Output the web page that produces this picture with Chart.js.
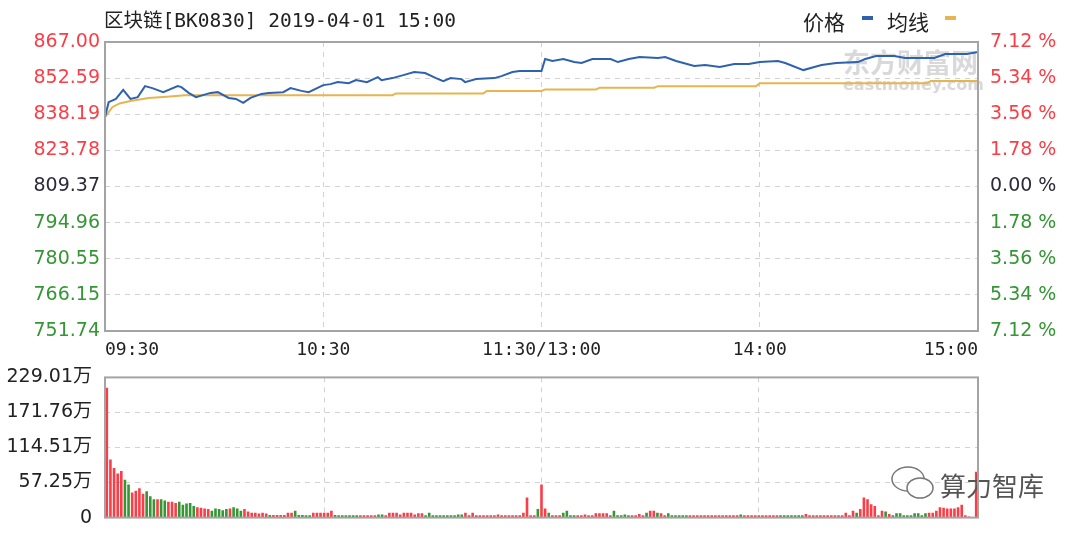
<!DOCTYPE html>
<html>
<head>
<meta charset="utf-8">
<script src="https://cdn.jsdelivr.net/npm/chart.js@4.4.1/dist/chart.umd.min.js"></script>
<style>
    html, body { margin: 0; padding: 0; background: #fff; }
    #wrap { position: relative; width: 1080px; height: 533px; overflow: hidden; }
    canvas { position: absolute; left: 0; }
    #price { top: 0; }
    #volume { top: 353px; }
</style>
</head>
<body>
<div id="wrap">
    <canvas id="price" width="1080" height="365"></canvas>
    <canvas id="volume" width="1080" height="189"></canvas>
</div>
<script>
const TIME_TICKS = [0, 60, 120, 180, 240];
const TIME_LABELS = ['09:30', '10:30', '11:30/13:00', '14:00', '15:00'];

const PRE_CLOSE = 809.37;
const PRICE_TICKS = [751.74, 766.15, 780.55, 794.96, 809.37, 823.78, 838.19, 852.59, 867.00];

// 价格 (minute, value)
const PRICE_MINUTES = [0, 1, 3, 5, 7, 9, 11, 13, 16, 20, 21, 23, 25, 29, 31, 34, 36, 38, 40, 43,
    45, 49, 51, 54, 56, 60, 62, 64, 67, 69, 72, 75, 76, 79, 82, 85, 88, 91, 93, 95,
    98, 99, 102, 107, 109, 112, 114, 120, 121, 123, 126, 129, 131, 134, 139, 141, 144, 147, 152, 154,
    157, 158, 162, 165, 169, 173, 177, 180, 185, 187, 192, 195, 197, 201, 207, 209, 212, 217, 220, 228,
    231, 237, 240];
const PRICE_VALUES = [837, 843, 844.3, 847.9, 844.3, 845, 849.4, 848.6, 847, 849.4, 849, 846.7, 845, 846.7, 847, 844.7, 844.3, 842.7, 844.7, 846.3,
    846.7, 847, 848.6, 847.5, 847, 849.8, 850.2, 851, 850.6, 851.8, 851, 853, 851.8, 852.6, 853.8, 855, 854.6, 852.6, 851.4, 852.6,
    852.2, 851, 852.2, 852.6, 853.4, 855, 855.4, 855.4, 860.2, 859.4, 860.2, 859, 858.6, 860.2, 860.2, 859, 860.2, 861, 860.6, 861,
    859.4, 859, 857.4, 857.8, 857, 858.2, 858.2, 859, 859.4, 858.6, 855.8, 857, 857.8, 858.6, 859, 860.2, 861.4, 861.4, 860.6, 860.6,
    862.2, 862.2, 863];

// 均线 (minute, value)
const AVG_MINUTES = [0, 2, 4, 7, 12, 17, 22, 79, 80, 104, 105, 120, 121, 135, 136, 151, 152, 179, 180, 226, 227, 240];
const AVG_VALUES = [837, 841, 842.5, 843.5, 844.7, 845.2, 845.8, 845.8, 846.5, 846.5, 847.5, 847.5, 848.1, 848.1, 848.8, 848.8, 849.4, 849.4, 850.5, 850.5, 851.4, 851.4];

const VOLUME_TICKS = [0, 57.25, 114.51, 171.76, 229.01];
const VOLUME_LABELS = ['0', '57.25万', '114.51万', '171.76万', '229.01万'];

// 成交量, 万, one bar per minute
const VOLUMES = [
    212, 95, 81, 72, 76, 62, 54, 41, 44, 48,
    39, 43, 35, 30, 30, 30, 28, 26, 26, 24,
    26, 21, 23, 24, 19, 17, 16, 15, 14, 11,
    15, 14, 12, 14, 15, 17, 15, 11, 14, 10,
    8, 8, 6.5, 8, 6.5, 4.4, 4.4, 4.4, 4.4, 4.4,
    8, 8, 11, 4.4, 4.4, 3.8, 3.8, 8, 8, 8,
    8, 8, 11, 4.4, 4, 4, 4, 4, 4, 4,
    4, 4, 4, 4, 4, 5, 5, 4, 8, 8,
    8, 5, 8, 8, 8, 5, 7, 7, 4, 8,
    4, 4, 4, 4, 4, 4, 4, 5, 5, 8,
    4, 8, 4, 4, 4, 4, 4, 4, 5, 4,
    4, 4, 4, 4, 4, 8, 33, 4, 4, 14,
    54, 15, 8, 4, 4, 4, 8, 11, 4, 4,
    4, 4, 5, 4, 4, 7, 7, 7, 7, 4,
    11, 4, 4, 5, 4, 4, 4, 6, 4, 8,
    11, 11, 8, 7, 4, 7, 4, 4, 4, 4,
    4, 4, 4, 4, 4, 4, 4, 4, 4, 4,
    4, 4, 4, 4, 4, 5, 4, 4, 4, 4,
    4, 4, 4, 4, 4, 4, 4, 4, 4, 4,
    4, 4, 4, 6, 4, 4, 4, 4, 4, 4,
    4, 4, 4, 4, 8, 4, 11, 8, 14, 33,
    30, 22, 19, 4, 11, 10, 6, 4, 7, 7,
    4, 4, 4, 7, 7, 4, 7, 8, 8, 11,
    17, 16, 15, 15, 15, 17, 21, 4, 2, 0,
    75
];
// R = up, G = down
const VOLUME_DIRECTION = (
    'RRRRRGGRRR' + 'RGGGRGGRRR' + 'GGGGGRRRRG' + 'GGGGRGGGRR' + 'RRRRRGRRRR' +
    'RRGGGGGRRR' + 'RRRGGGGGGG' + 'RRRRRGGRRR' + 'RRRRRRRRGG' + 'GGGGGGGGGR' +
    'RRRRRRRRRR' + 'RRRRRRRRRG' + 'RRGRRRGGGG' + 'RRRRRRRRRR' + 'GGGGGRRRRG' +
    'RRGRRGGGGG' + 'GRRRRRRRRR' + 'RRRRRGRRRR' + 'RRRRRRGGGG' + 'GGGRRRRRRR' +
    'RRRRRRRGRR' + 'RRRRRGRGGG' + 'GGGGGGGRRR' + 'RRRRRRRRRR' + 'R'
).split('');

const RED = 'rgb(250, 62, 72)';
const GREEN = 'rgb(52, 150, 52)';
const DARK = '#2b2b3a';
const GRID = '#d2d2d2';
const FRAME = '#a4a4a4';
const PRICE_COLOR = '#2f62ae';
const AVG_COLOR = '#e6b550';
const NUM_FONT = '"DejaVu Sans", sans-serif';
const MONO_FONT = '"DejaVu Sans Mono", "Noto Sans CJK SC", monospace';
const CJK_FONT = '"Noto Sans CJK SC", sans-serif';

Chart.defaults.font.family = NUM_FONT;

function tickColor(ctx) {
    var v = ctx.tick.value;
    if (Math.abs(v - PRE_CLOSE) < 0.01) {
        return DARK;
    }
    return v > PRE_CLOSE ? RED : GREEN;
}

function innerGrid(count) {
    return ctx => (ctx.index === 0 || ctx.index === count - 1) ? 'rgba(0,0,0,0)' : GRID;
}

function setTicks(values) {
    return axis => { axis.ticks = values.map(v => ({ value: v })); };
}

function toPoints(xs, ys) {
    return xs.map((x, i) => ({ x: x, y: ys[i] }));
}

const framePlugin = {
    id: 'frame',
    afterDraw(chart) {
        var a = chart.chartArea;
        var ctx = chart.ctx;
        ctx.save();
        ctx.strokeStyle = FRAME;
        ctx.lineWidth = 2;
        ctx.strokeRect(a.left, a.top, a.right - a.left, a.bottom - a.top);
        ctx.restore();
    }
};

const priceDecor = {
    id: 'priceDecor',
    beforeDatasetsDraw(chart) {
        var ctx = chart.ctx;
        ctx.save();
        ctx.fillStyle = 'rgba(160, 160, 160, 0.4)';
        ctx.textBaseline = 'middle';
        ctx.font = 'bold 27px ' + CJK_FONT;
        ctx.fillText('东方财富网', 843, 63);
        ctx.font = 'bold 16px ' + NUM_FONT;
        ctx.fillText('eastmoney.com', 843, 86);
        ctx.restore();
    },
    afterDraw(chart) {
        var ctx = chart.ctx;
        ctx.save();
        ctx.textBaseline = 'middle';
        ctx.fillStyle = '#222';
        ctx.font = '19.5px ' + MONO_FONT;
        ctx.fillText('区块链[BK0830] 2019-04-01 15:00', 104, 22);
        ctx.font = '21px ' + CJK_FONT;
        ctx.fillText('价格', 803, 22);
        ctx.fillText('均线', 887, 22);
        ctx.fillStyle = PRICE_COLOR;
        ctx.fillRect(862, 16, 11, 4);
        ctx.fillStyle = AVG_COLOR;
        ctx.fillRect(945, 16, 11, 4);
        ctx.restore();
    }
};

const volumeDecor = {
    id: 'volumeDecor',
    afterDraw(chart) {
        var ctx = chart.ctx;
        ctx.save();
        ctx.strokeStyle = '#777';
        ctx.lineWidth = 1.5;
        ctx.beginPath();
        ctx.ellipse(908, 126, 16, 12, 0, 0, Math.PI * 2);
        ctx.stroke();
        ctx.fillStyle = '#fff';
        ctx.beginPath();
        ctx.ellipse(920, 135, 13, 10, 0, 0, Math.PI * 2);
        ctx.fill();
        ctx.stroke();
        ctx.fillStyle = '#555';
        ctx.font = '26px ' + CJK_FONT;
        ctx.textBaseline = 'middle';
        ctx.fillText('算力智库', 940, 133);
        ctx.restore();
    }
};

new Chart(document.getElementById('price').getContext('2d'), {
    type: 'line',
    data: {
        datasets: [
            {
                label: '价格',
                data: toPoints(PRICE_MINUTES, PRICE_VALUES),
                borderColor: PRICE_COLOR,
                borderWidth: 2,
                pointRadius: 0,
                tension: 0,
                fill: false
            },
            {
                label: '均线',
                data: toPoints(AVG_MINUTES, AVG_VALUES),
                borderColor: AVG_COLOR,
                borderWidth: 2,
                pointRadius: 0,
                tension: 0,
                fill: false
            }
        ]
    },
    options: {
        responsive: false,
        animation: false,
        layout: { padding: { top: 42, left: 0, right: 0, bottom: 0 } },
        plugins: { legend: { display: false }, tooltip: { enabled: false } },
        scales: {
            x: {
                type: 'linear',
                min: 0,
                max: 240,
                afterBuildTicks: setTicks(TIME_TICKS),
                afterFit: axis => { axis.height = 34; },
                grid: { color: innerGrid(TIME_TICKS.length), drawTicks: false },
                border: { display: false, dash: [5, 5] },
                ticks: {
                    align: 'inner',
                    padding: 9,
                    maxRotation: 0,
                    autoSkip: false,
                    color: '#222',
                    font: { family: MONO_FONT, size: 18 },
                    callback: v => TIME_LABELS[TIME_TICKS.indexOf(v)]
                }
            },
            y: {
                position: 'left',
                min: PRICE_TICKS[0],
                max: PRICE_TICKS[PRICE_TICKS.length - 1],
                afterBuildTicks: setTicks(PRICE_TICKS),
                afterFit: axis => { axis.width = 105; },
                grid: { color: innerGrid(PRICE_TICKS.length), drawTicks: false },
                border: { display: false, dash: [5, 5] },
                ticks: {
                    padding: 5,
                    color: tickColor,
                    font: { size: 19 },
                    callback: v => v.toFixed(2)
                }
            },
            y1: {
                position: 'right',
                min: PRICE_TICKS[0],
                max: PRICE_TICKS[PRICE_TICKS.length - 1],
                afterBuildTicks: setTicks(PRICE_TICKS),
                afterFit: axis => { axis.width = 102; },
                grid: { display: false, drawTicks: false },
                border: { display: false },
                ticks: {
                    padding: 12,
                    color: tickColor,
                    font: { size: 19 },
                    callback: v => Math.abs((v - PRE_CLOSE) / PRE_CLOSE * 100).toFixed(2) + ' %'
                }
            }
        }
    },
    plugins: [priceDecor, framePlugin]
});

new Chart(document.getElementById('volume').getContext('2d'), {
    type: 'bar',
    data: {
        datasets: [{
            label: '成交量',
            data: toPoints(VOLUMES.map((v, i) => i), VOLUMES),
            backgroundColor: VOLUME_DIRECTION.map(d => d === 'R' ? RED : GREEN),
            barPercentage: 0.72,
            categoryPercentage: 1
        }]
    },
    options: {
        responsive: false,
        animation: false,
        layout: { padding: { top: 12, left: 0, right: 102, bottom: 0 } },
        plugins: { legend: { display: false }, tooltip: { enabled: false } },
        scales: {
            x: {
                type: 'linear',
                min: -0.5,
                max: 240.5,
                offset: false,
                afterBuildTicks: setTicks(TIME_TICKS),
                afterFit: axis => { axis.height = 16; },
                grid: { offset: false, color: innerGrid(TIME_TICKS.length), drawTicks: false },
                border: { display: false, dash: [5, 5] },
                ticks: { display: false }
            },
            y: {
                position: 'left',
                min: 0,
                max: VOLUME_TICKS[VOLUME_TICKS.length - 1],
                afterBuildTicks: setTicks(VOLUME_TICKS),
                afterFit: axis => { axis.width = 105; },
                grid: { color: innerGrid(VOLUME_TICKS.length), drawTicks: false },
                border: { display: false, dash: [5, 5] },
                ticks: {
                    padding: 13,
                    color: '#222',
                    font: { family: NUM_FONT + ', ' + CJK_FONT, size: 19 },
                    callback: v => VOLUME_LABELS[VOLUME_TICKS.indexOf(v)]
                }
            }
        }
    },
    plugins: [volumeDecor, framePlugin]
});
</script>
</body>
</html>
